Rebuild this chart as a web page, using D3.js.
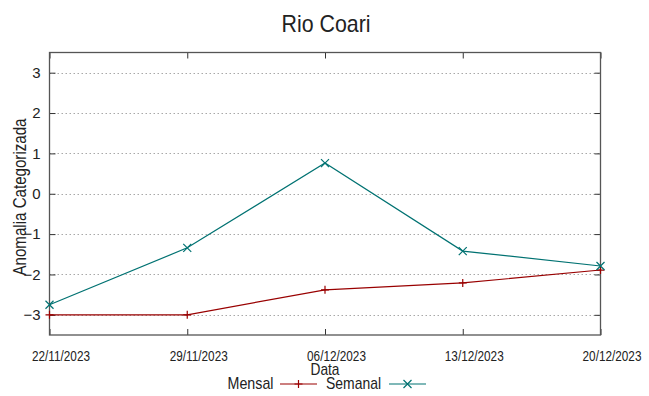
<!DOCTYPE html>
<html><head><meta charset="utf-8">
<script src="https://cdn.jsdelivr.net/npm/d3@7"></script>
<style>
html,body{margin:0;padding:0;background:#fff;}
svg{display:block;}
text{font-family:"Liberation Sans",Arial,sans-serif;fill:#222;}
</style>
</head><body>
<svg id="chart" width="649" height="396"></svg>
<script>
const title = "Rio Coari";
const dates = ["22/11/2023","29/11/2023","06/12/2023","13/12/2023","20/12/2023"];
const mensal = [-3, -3, -2.38, -2.21, -1.89];
const semanal = [-2.75, -1.34, 0.76, -1.42, -1.79];
const yTicks = [-3, -2, -1, 0, 1, 2, 3];
const seriesNames = ["Mensal", "Semanal"];
const seriesColors = ["#990000", "#007272"];

const svg = d3.select("#chart");
const L = 49.5, R = 600.5, T = 52.5, B = 335;
const x = d3.scalePoint().domain(dates).range([L, R]);
const y = d3.scaleLinear().domain([-3.5, 3.5]).range([B, T]);

// condense text horizontally (narrow font look)
function squeeze(sel, f) {
  sel.each(function() {
    const w = this.getComputedTextLength();
    this.setAttribute("textLength", (w * f).toFixed(1));
    this.setAttribute("lengthAdjust", "spacingAndGlyphs");
  });
}

// grid
svg.append("g").selectAll("line").data(yTicks).join("line")
  .attr("x1", L).attr("x2", R)
  .attr("y1", d => Math.round(y(d)) + 0.5).attr("y2", d => Math.round(y(d)) + 0.5)
  .attr("stroke", "#a8a8a8").attr("stroke-width", 1).attr("stroke-dasharray", "1.5,2.5");

// axes (ticks inward)
const axL = svg.append("g").attr("transform", `translate(${L},0)`)
  .call(d3.axisLeft(y).tickValues(yTicks).tickSize(-6).tickPadding(9).tickFormat(d3.format("d")));
const axR = svg.append("g").attr("transform", `translate(${R},0)`)
  .call(d3.axisRight(y).tickValues(yTicks).tickSize(-6).tickFormat(""));
const axB = svg.append("g").attr("transform", `translate(0,${B})`)
  .call(d3.axisBottom(x).tickSize(-6).tickPadding(16));
const axT = svg.append("g").attr("transform", `translate(0,${T})`)
  .call(d3.axisTop(x).tickSize(-6).tickFormat(""));
[axL, axR, axB, axT].forEach(a => {
  a.attr("font-family", null).attr("font-size", null);
  a.select(".domain").remove();
  a.selectAll(".tick line").attr("stroke", "#333").attr("stroke-width", 1);
});
axL.selectAll(".tick text").attr("font-size", 15).attr("fill", "#222");
axB.selectAll(".tick text").attr("font-size", 14).attr("fill", "#222").attr("dx", 11);
squeeze(axB.selectAll(".tick text"), 0.84);

// frame
svg.append("rect").attr("x", L).attr("y", T).attr("width", R - L).attr("height", B - T)
  .attr("fill", "none").attr("stroke", "#555").attr("stroke-width", 1.3);

// series
const line = d3.line().x((d, i) => x(dates[i])).y(d => y(d));
const allSeries = [mensal, semanal];
allSeries.forEach((s, k) => {
  svg.append("path").datum(s).attr("d", line).attr("fill", "none")
    .attr("stroke", seriesColors[k]).attr("stroke-width", 1.2);
  const g = svg.append("g");
  s.forEach((v, i) => {
    const cx = x(dates[i]), cy = y(v), r = 4;
    if (k === 0) {
      g.append("path").attr("d", `M${cx - r},${cy}H${cx + r}M${cx},${cy - r}V${cy + r}`)
        .attr("stroke", seriesColors[k]).attr("stroke-width", 1.2);
    } else {
      g.append("path").attr("d", `M${cx - r},${cy - r}L${cx + r},${cy + r}M${cx - r},${cy + r}L${cx + r},${cy - r}`)
        .attr("stroke", seriesColors[k]).attr("stroke-width", 1.2);
    }
  });
});

// title
svg.append("text").attr("x", 326).attr("y", 31.5).attr("text-anchor", "middle")
  .attr("font-size", 24).attr("textLength", 89).attr("lengthAdjust", "spacingAndGlyphs").text(title);

// axis labels
svg.append("text").attr("transform", "translate(26,197) rotate(-90)").attr("text-anchor", "middle")
  .attr("font-size", 17.5).attr("textLength", 157).attr("lengthAdjust", "spacingAndGlyphs")
  .text("Anomalia Categorizada");
svg.append("text").attr("x", 325).attr("y", 375).attr("text-anchor", "middle")
  .attr("font-size", 17).attr("textLength", 29).attr("lengthAdjust", "spacingAndGlyphs").text("Data");

// legend
const legItems = [
  {name: seriesNames[0], textEnd: 273.5, w: 46, x1: 280, x2: 317, color: seriesColors[0], m: "+"},
  {name: seriesNames[1], textEnd: 381, w: 55, x1: 389, x2: 426, color: seriesColors[1], m: "x"}
];
const ly = 384;
legItems.forEach(it => {
  svg.append("text").attr("x", it.textEnd).attr("y", 388.5).attr("text-anchor", "end")
    .attr("font-size", 17).attr("textLength", it.w).attr("lengthAdjust", "spacingAndGlyphs").text(it.name);
  svg.append("line").attr("x1", it.x1).attr("x2", it.x2).attr("y1", ly).attr("y2", ly)
    .attr("stroke", it.color).attr("stroke-width", 1.2);
  const cx = (it.x1 + it.x2) / 2, r = 4;
  const d = it.m === "+" ? `M${cx - r},${ly}H${cx + r}M${cx},${ly - r}V${ly + r}`
    : `M${cx - r},${ly - r}L${cx + r},${ly + r}M${cx - r},${ly + r}L${cx + r},${ly - r}`;
  svg.append("path").attr("d", d).attr("stroke", it.color).attr("stroke-width", 1.2);
});
</script>
</body></html>
